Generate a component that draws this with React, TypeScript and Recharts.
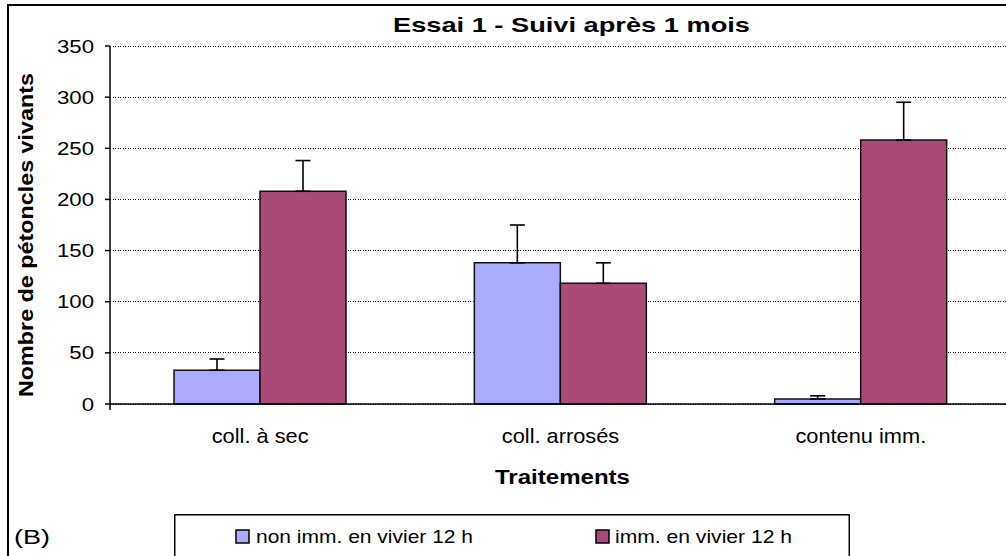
import React from 'react';
import { BarChart, Bar, XAxis, YAxis, CartesianGrid, ErrorBar, Legend } from 'recharts';

const categories = ['coll. à sec', 'coll. arrosés', 'contenu imm.'];
const seriesNames = ['non imm. en vivier 12 h', 'imm. en vivier 12 h'];
const nonImm = [33, 138, 5];
const nonImmErr = [11, 37, 3];
const imm = [208, 118, 258];
const immErr = [30, 20, 37];
const yTicks = [0, 50, 100, 150, 200, 250, 300, 350];
const colors = ['#AAAAFF', '#AA4A76'];

const data = categories.map((c, i) => ({
  cat: c,
  nonImm: nonImm[i],
  nonImmErr: [0, nonImmErr[i]],
  imm: imm[i],
  immErr: [0, immErr[i]],
}));

const FONT = '"Liberation Sans", Arial, sans-serif';

const YTick = (props: any) => {
  const { x, y, payload } = props;
  return (
    <g transform={`translate(${x},${y})`}>
      <text transform="scale(1.2,1)" textAnchor="end" dy={6.5} fontSize={18.5} fontFamily={FONT} fill="#000">
        {payload.value}
      </text>
    </g>
  );
};

const XTick = (props: any) => {
  const { x, y, payload } = props;
  return (
    <g transform={`translate(${x},${y})`}>
      <text transform="scale(1.09,1)" textAnchor="middle" dy={39.3} fontSize={20} fontFamily={FONT} fill="#000">
        {payload.value}
      </text>
    </g>
  );
};

const legendLayout = [
  { sq: 62, tx: 82, len: 217 },
  { sq: 422, tx: 441, len: 177 },
];

const LegendContent = (props: any) => {
  const { payload } = props;
  return (
    <svg width={676} height={60} style={{ overflow: 'visible', display: 'block' }}>
      <rect x={0.75} y={0.75} width={674.5} height={80} fill="#fff" stroke="#000" strokeWidth={1.5} />
      {(payload || []).map((p: any, i: number) => {
        const idx = seriesNames.indexOf(p.value);
        const l = legendLayout[idx >= 0 ? idx : i];
        return (
          <g key={i}>
            <rect x={l.sq} y={16} width={13} height={13} fill={p.color} stroke="#000" strokeWidth={1.5} />
            <text x={l.tx} y={28.7} fontSize={19} fontFamily={FONT} fill="#000" textLength={l.len} lengthAdjust="spacingAndGlyphs">
              {p.value}
            </text>
          </g>
        );
      })}
    </svg>
  );
};

export default function App() {
  return (
    <div style={{ position: 'fixed', left: 0, top: 0, width: 1006, height: 556, overflow: 'hidden', background: '#fff' }}>
      <BarChart
        width={1021}
        height={556}
        data={data}
        margin={{ top: 46, right: 10, bottom: 122, left: 50 }}
        barCategoryGap={64}
        barGap={0}
      >
        <CartesianGrid horizontal vertical={false} stroke="#000" strokeDasharray="1.2 1.3" shapeRendering="crispEdges" />
        <XAxis
          dataKey="cat"
          height={30}
          axisLine={{ stroke: '#000', strokeWidth: 1.5 }}
          tickLine={false}
          tickSize={0}
          tickMargin={0}
          tick={<XTick />}
          interval={0}
        />
        <YAxis
          width={60}
          domain={[0, 350]}
          ticks={yTicks}
          interval={0}
          axisLine={{ stroke: '#000', strokeWidth: 1.5 }}
          tickLine={{ stroke: '#000', strokeWidth: 1.5 }}
          tickSize={5}
          tickMargin={11}
          tick={<YTick />}
        />
        <Legend
          layout="vertical"
          align="center"
          verticalAlign="middle"
          content={<LegendContent />}
          wrapperStyle={{ left: 174, top: 514, width: 676, height: 60 }}
        />
        <Bar dataKey="nonImm" name={seriesNames[0]} fill={colors[0]} stroke="#111" strokeWidth={1.5} isAnimationActive={false}>
          <ErrorBar dataKey="nonImmErr" direction="y" width={7.5} stroke="#000" strokeWidth={1.6} />
        </Bar>
        <Bar dataKey="imm" name={seriesNames[1]} fill={colors[1]} stroke="#111" strokeWidth={1.5} isAnimationActive={false}>
          <ErrorBar dataKey="immErr" direction="y" width={7.5} stroke="#000" strokeWidth={1.6} />
        </Bar>
      </BarChart>
      <svg width={1006} height={556} style={{ position: 'absolute', left: 0, top: 0, pointerEvents: 'none' }}>
        <rect x={8} y={5} width={1200} height={800} fill="none" stroke="#000" strokeWidth={2} />
        <line x1={110} y1={404} x2={110} y2={410} stroke="#000" strokeWidth={1.5} />
        <text x={571.5} y={32} textAnchor="middle" fontSize={21} fontWeight="bold" fontFamily={FONT} textLength={357} lengthAdjust="spacingAndGlyphs">
          Essai 1 - Suivi après 1 mois
        </text>
        <text transform="translate(33,235) rotate(-90)" textAnchor="middle" fontSize={20} fontWeight="bold" fontFamily={FONT} textLength={324} lengthAdjust="spacingAndGlyphs">
          Nombre de pétoncles vivants
        </text>
        <text x={562.5} y={484} textAnchor="middle" fontSize={20} fontWeight="bold" fontFamily={FONT} textLength={135} lengthAdjust="spacingAndGlyphs">
          Traitements
        </text>
        <text x={14} y={544} fontSize={20} fontFamily={FONT} textLength={36} lengthAdjust="spacingAndGlyphs">
          (B)
        </text>
      </svg>
    </div>
  );
}
